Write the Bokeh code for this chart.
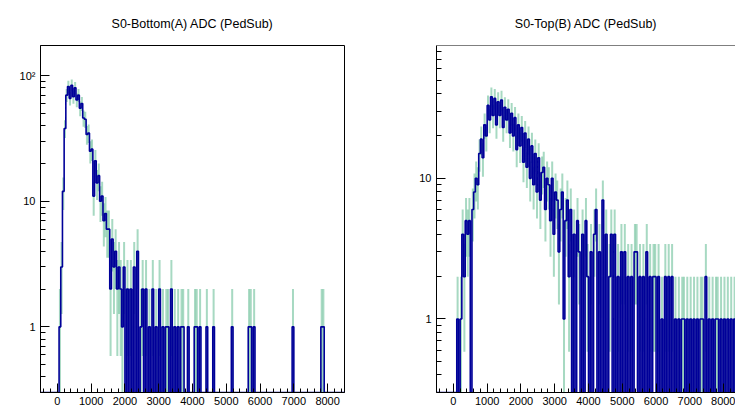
import math
from bokeh.plotting import figure
from bokeh.models import Range1d, FixedTicker, Span
from bokeh.layouts import row
from bokeh.embed import file_html
from bokeh.resources import INLINE

# ---------------- data ----------------
titles = ["S0-Bottom(A) ADC (PedSub)", "S0-Top(B) ADC (PedSub)"]

# histogram binning in ADC counts (first bin starts at bin_start)
bin_start = -500
bin_width = 50

# S0-Bottom(A): counts per 50-ADC bin from -500
counts_a = [
    0, 0, 0, 0, 0, 0, 0, 0, 0, 0,
    0, 1, 3, 12, 38, 70, 82, 66, 84, 68,
    80, 64, 70, 55, 60, 46, 45, 34, 35, 25,
    26, 11, 21, 14, 16, 10, 11, 7, 8, 6,
    6, 2, 5, 3, 4, 2, 3, 2, 1, 3,
    0, 2, 0, 2, 0, 3, 0, 4, 0, 1,
    2, 0, 2, 0, 1, 0, 2, 0, 1, 0,
    2, 0, 1, 0, 1, 1, 0, 2, 0, 1,
    0, 1, 0, 1, 1, 0, 0, 1, 0, 0,
    0, 1, 1, 0, 1, 0, 0, 0, 1, 0,
    0, 0, 1, 0, 0, 0, 0, 0, 0, 0,
    0, 0, 0, 1, 0, 0, 0, 0, 0, 0,
    0, 0, 0, 1, 1, 0, 1, 0, 0, 0,
    0, 0, 0, 0, 0, 0, 0, 0, 0, 0,
    0, 0, 0, 0, 0, 0, 0, 0, 0, 1,
    0, 0, 0, 0, 0, 0, 0, 0, 0, 0,
    0, 0, 0, 0, 0, 0, 1, 1, 0, 0,
    0, 0, 0, 0, 0, 0, 0, 0, 0, 0,
]

# S0-Top(B): counts per 50-ADC bin from -500
counts_b = [
    0, 0, 0, 0, 0, 0, 0, 0, 0, 0,
    0, 0, 1, 0, 1, 4, 2, 5, 4, 5,
    0, 6, 8, 10, 9, 15, 19, 14, 24, 20,
    33, 26, 38, 28, 37, 24, 35, 28, 36, 23,
    32, 26, 31, 21, 29, 20, 27, 16, 24, 17,
    23, 13, 21, 12, 19, 10, 17, 9, 15, 8,
    14, 7, 11, 12, 6, 10, 9, 5, 10, 4,
    8, 7, 3, 6, 8, 1, 5, 7, 2, 6,
    0, 4, 0, 5, 3, 0, 4, 0, 5, 2,
    0, 3, 0, 4, 6, 0, 3, 0, 7, 0,
    4, 0, 2, 4, 0, 4, 0, 2, 0, 3,
    0, 3, 0, 2, 0, 2, 0, 3, 3, 0,
    2, 0, 2, 0, 3, 0, 2, 0, 2, 2,
    0, 2, 0, 1, 0, 2, 0, 2, 0, 2,
    0, 1, 0, 1, 0, 1, 1, 0, 1, 0,
    1, 0, 1, 0, 1, 0, 1, 1, 0, 2,
    0, 1, 0, 1, 0, 1, 1, 0, 1, 0,
    1, 0, 1, 0, 1, 0, 1, 0, 1, 0,
]

x_ticks = [0, 1000, 2000, 3000, 4000, 5000, 6000, 7000, 8000]
y_ticks = [1, 10, 100]
y_tick_labels = {1: "1", 10: "10", 100: "10\u00b2"}

# ---------------- styling ----------------
FONT = "Liberation Sans"
BLUE = "#000099"
GREEN = "#3caa78"
Y_MIN = 0.3


def build(title, counts, width, border_left, border_right, x_end, y_end, full_frame):
    p = figure(width=width, height=409, output_backend="svg", toolbar_location=None,
               x_range=Range1d(-500, x_end), y_range=Range1d(Y_MIN, y_end),
               y_axis_type="log", min_border_left=border_left,
               min_border_right=border_right, min_border_top=44, min_border_bottom=17)
    p.background_fill_color = "white"
    p.border_fill_color = "white"
    p.xgrid.visible = False
    p.ygrid.visible = False

    # error bars (sqrt(N))
    ex, ey0, ey1 = [], [], []
    for i, c in enumerate(counts):
        if c > 0:
            xc = bin_start + (i + 0.5) * bin_width
            err = math.sqrt(c)
            ex.append(xc)
            ey0.append(max(c - err, Y_MIN * 0.5))
            ey1.append(c + err)
    p.segment(x0=ex, y0=ey0, x1=ex, y1=ey1, line_color=GREEN, line_alpha=0.45,
              line_width=2)

    # histogram outline
    sx, sy = [], []
    for i, c in enumerate(counts):
        x0 = bin_start + i * bin_width
        v = c if c > 0 else Y_MIN
        sx += [x0, x0 + bin_width]
        sy += [v, v]
    p.line(sx, sy, line_color=BLUE, line_width=1.6)

    # axes
    minor_x = [v for v in range(-400, 8600, 200) if v % 1000 != 0]
    p.xaxis.ticker = FixedTicker(ticks=x_ticks, minor_ticks=minor_x)
    minor_y = [0.3, 0.4, 0.5, 0.6, 0.7, 0.8, 0.9, 2, 3, 4, 5, 6, 7, 8, 9,
               20, 30, 40, 50, 60, 70, 80, 90]
    p.yaxis.ticker = FixedTicker(ticks=y_ticks, minor_ticks=minor_y)
    p.yaxis.major_label_overrides = y_tick_labels

    for ax in (p.xaxis[0], p.yaxis[0]):
        ax.axis_line_color = "black"
        ax.major_tick_line_color = "black"
        ax.minor_tick_line_color = "black"
        ax.major_tick_out = 0
        ax.minor_tick_out = 0
        ax.major_label_text_font = FONT
        ax.major_label_text_font_size = "11px"
        ax.major_label_text_color = "black"
    p.xaxis.major_tick_in = 9
    p.xaxis.minor_tick_in = 4
    p.xaxis.major_label_standoff = 4
    p.yaxis.major_tick_in = 9
    p.yaxis.minor_tick_in = 5
    p.yaxis.major_label_standoff = 5

    if full_frame:
        p.outline_line_color = "black"
        p.outline_line_width = 1
    else:
        p.outline_line_color = None
        p.add_layout(Span(location=y_end, dimension="width", line_color="black",
                          line_width=1))

    p.title.text = title
    p.title.align = "center"
    p.title.text_font = FONT
    p.title.text_font_size = "12.5px"
    p.title.text_font_style = "normal"
    p.title.text_color = "black"
    p.title.standoff = 29
    return p


p1 = build(titles[0], counts_a, 388, 40, 44, 8500, 174, True)
p2 = build(titles[1], counts_b, 347, 48, 0, 8352, 88, False)

layout = row(p1, p2)
open("out.html", "w").write(file_html(layout, INLINE))
